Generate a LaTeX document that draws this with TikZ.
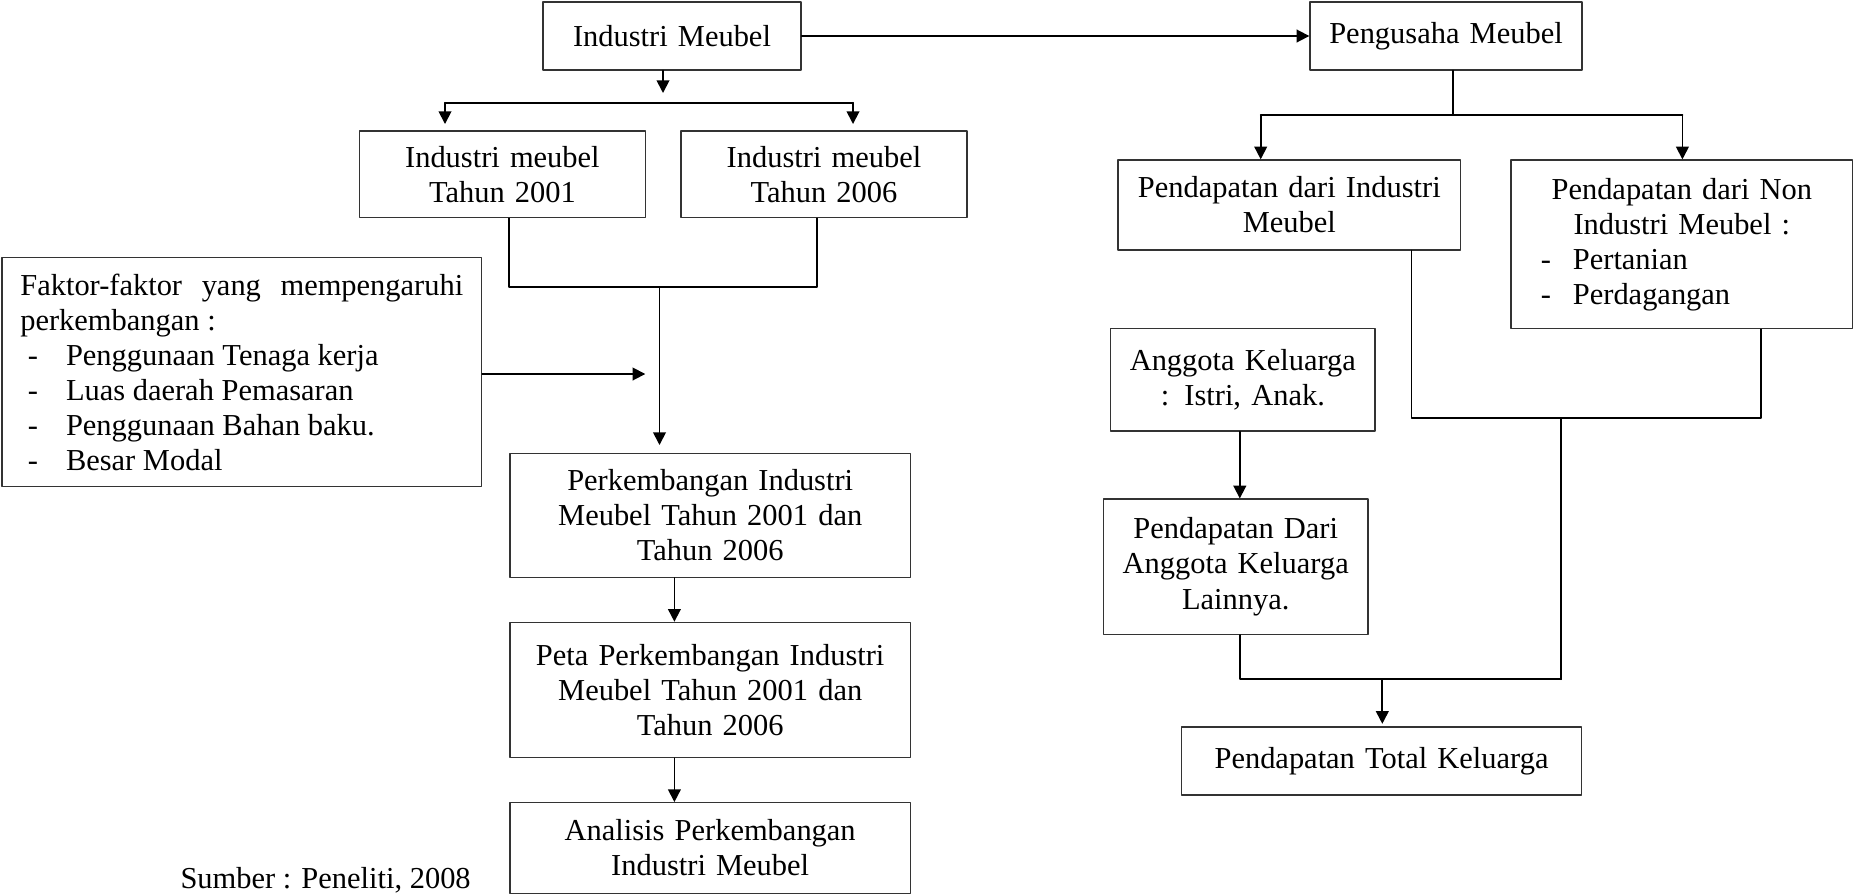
\documentclass[tikz,border=0pt]{standalone}
\usepackage{fontspec}
\setmainfont{Liberation Serif}
\usetikzlibrary{arrows.meta}

\tikzset{
  kotak/.style={draw=black!80, line width=0.5pt, inner sep=0pt, align=center,
    font=\fontsize{12}{13.8}\selectfont},
  garis/.style={line width=0.7pt},
  panah/.style={garis, -{Triangle[length=5pt,width=5pt]}},
}
\newcommand{\butir}[1]{\hspace*{3pt}\makebox[15pt][l]{-}#1}
\newcommand{\butirnon}[1]{\makebox[115.8pt][l]{\hspace*{2.4pt}\makebox[12.6pt][l]{-}#1}}

\begin{document}
\begin{tikzpicture}[line cap=round,line join=round,x=0.394pt,y=-0.394pt]
\useasboundingbox (0,0) rectangle (1854,894);
% kotak kiri
\node[kotak, minimum width=101.7pt, minimum height=26.8pt, text width=95pt] (indm) at (672,36) {Industri Meubel};
\node[kotak, minimum width=112.7pt, minimum height=34.2pt, text width=106pt] (ind01) at (502.4,174.4) {Industri meubel\\Tahun 2001};
\node[kotak, minimum width=112.7pt, minimum height=34.2pt, text width=106pt] (ind06) at (824,174.4) {Industri meubel\\Tahun 2006};
\node[kotak, align=justify, minimum width=189pt, minimum height=90.2pt, text width=174.5pt] (faktor) at (241.8,372.2) {Faktor-faktor yang mempengaruhi\linebreak perkembangan :\\
\butir{Penggunaan Tenaga kerja}\\
\butir{Luas daerah Pemasaran}\\
\butir{Penggunaan Bahan baku.}\\
\butir{Besar Modal}};
\node[kotak, minimum width=157.8pt, minimum height=48.9pt, text width=150pt] (perk) at (710.2,515.3) {Perkembangan Industri\\Meubel Tahun 2001 dan\\Tahun 2006};
\node[kotak, minimum width=157.8pt, minimum height=53.3pt, text width=150pt] (peta) at (710.2,690) {Peta Perkembangan Industri\\Meubel Tahun 2001 dan\\Tahun 2006};
\node[kotak, minimum width=157.8pt, minimum height=35.7pt, text width=150pt] (anal) at (710.2,848) {Analisis Perkembangan\\Industri Meubel};
\node[anchor=base west, inner sep=0pt, font=\fontsize{12}{13.8}\selectfont] (sumber) at (180,888) {Sumber : Peneliti, 2008};
% kotak kanan
\node[kotak, minimum width=107.2pt, minimum height=26.8pt, text width=100pt] (peng) at (1446,36) {Pengusaha Meubel};
\node[kotak, minimum width=135.1pt, minimum height=35.5pt, text width=128pt] (pdind) at (1289.3,205) {Pendapatan dari Industri\\Meubel};
\node[kotak, minimum width=134.7pt, minimum height=66.5pt, text width=115.8pt] (pdnon) at (1681.8,244.4) {Pendapatan dari Non\\Industri Meubel :\\
\butirnon{Pertanian}\\
\butirnon{Perdagangan}};
\node[kotak, minimum width=104.2pt, minimum height=40.3pt, text width=98pt] (angg) at (1242.8,379.9) {Anggota Keluarga\\: Istri, Anak.};
\node[kotak, minimum width=104.3pt, minimum height=53.3pt, text width=98pt] (pdang) at (1235.7,566.7) {Pendapatan Dari\\Anggota Keluarga\\Lainnya.};
\node[kotak, minimum width=157.8pt, minimum height=26.8pt, text width=150pt] (total) at (1381.5,761) {Pendapatan Total Keluarga};
% garis kiri
\coordinate (a1) at (663,93);
\draw[panah] (indm.south -| a1) -- (a1);
\coordinate (b1) at (445,102.7);
\coordinate (b2) at (853,102.7);
\draw[garis] (b1) -- (b2);
\draw[panah, shorten >=2.5pt] (b1) -- (b1 |- ind01.north);
\draw[panah, shorten >=2.5pt] (b2) -- (b2 |- ind06.north);
\coordinate (c1) at (509,287.3);
\coordinate (c2) at (817.3,287.3);
\coordinate (c3) at (659.5,287.3);
\draw[garis] (ind01.south -| c1) -- (c1) -- (c2) -- (ind06.south -| c2);
\draw[panah, shorten >=3pt] (c3) -- (c3 |- perk.north);
\coordinate (f1) at (645.3,374);
\draw[panah] (faktor.east |- f1) -- (f1);
\coordinate (d1) at (674.4,0);
\draw[panah] (perk.south -| d1) -- (peta.north -| d1);
\draw[panah] (peta.south -| d1) -- (anal.north -| d1);
% garis kanan
\draw[panah] (indm.east) -- (peng.west);
\coordinate (q0) at (1453,115);
\coordinate (q1) at (1260.7,115);
\coordinate (q2) at (1682.4,115);
\draw[garis] (peng.south -| q0) -- (q0);
\draw[garis] (q1) -- (q2);
\draw[panah] (q1) -- (q1 |- pdind.north);
\draw[panah] (q2) -- (q2 |- pdnon.north);
\coordinate (r1) at (1411.4,418.3);
\coordinate (r2) at (1761,418.3);
\coordinate (r3) at (1561,418.3);
\coordinate (r4) at (1561,679.3);
\draw[garis] (pdind.south -| r1) -- (r1) -- (r2) -- (pdnon.south -| r2);
\draw[garis] (r3) -- (r4);
\coordinate (s0) at (1239.8,0);
\draw[panah] (angg.south -| s0) -- (pdang.north -| s0);
\coordinate (s1) at (1239.8,679.3);
\coordinate (s2) at (1382.3,679.3);
\draw[garis] (pdang.south -| s1) -- (s1) -- (r4);
\draw[panah, shorten >=1pt] (s2) -- (s2 |- total.north);
\end{tikzpicture}
\end{document}
